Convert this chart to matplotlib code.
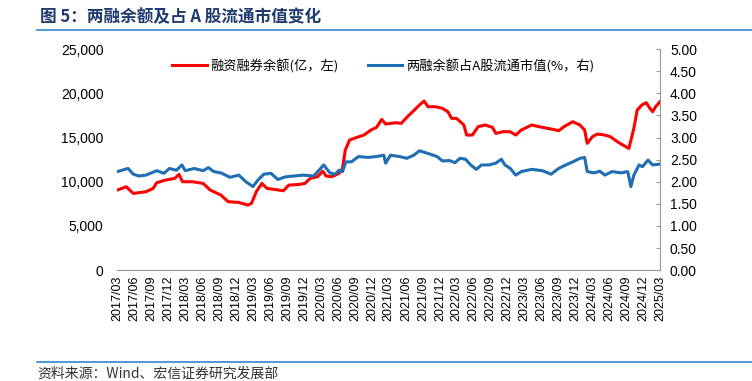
import matplotlib
matplotlib.use("Agg")
import matplotlib.pyplot as plt
import matplotlib.ticker as mticker
import numpy as np
import pandas as pd

plt.rcParams['font.family'] = ['Liberation Sans', 'Noto Sans CJK SC', 'DejaVu Sans']

# 融资融券余额(亿元, 左轴)
margin_dates = ['2017-03-01', '2017-04-18', '2017-05-26', '2017-08-02', '2017-09-10', '2017-09-29',
                '2017-11-16', '2018-01-04', '2018-01-27', '2018-02-15', '2018-04-09', '2018-06-06',
                '2018-07-14', '2018-09-10', '2018-10-18', '2018-12-15', '2019-02-02', '2019-02-21',
                '2019-03-19', '2019-04-18', '2019-05-16', '2019-06-25', '2019-08-12', '2019-09-10',
                '2019-11-07', '2019-12-06', '2020-01-03', '2020-02-12', '2020-03-10', '2020-03-29',
                '2020-04-28', '2020-06-06', '2020-06-25', '2020-07-10', '2020-08-02', '2020-09-10',
                '2020-10-18', '2020-11-25', '2020-12-25', '2021-01-22', '2021-02-12', '2021-04-10',
                '2021-05-07', '2021-06-06', '2021-07-13', '2021-08-13', '2021-09-07', '2021-09-28',
                '2021-11-06', '2021-12-15', '2022-01-13', '2022-02-02', '2022-03-01', '2022-04-09',
                '2022-04-24', '2022-05-25', '2022-06-25', '2022-08-02', '2022-09-10', '2022-09-28',
                '2022-11-07', '2022-12-15', '2023-01-13', '2023-02-12', '2023-04-09', '2023-06-06',
                '2023-08-02', '2023-09-01', '2023-09-30', '2023-11-16', '2023-12-25', '2024-01-19',
                '2024-02-02', '2024-03-01', '2024-03-28', '2024-05-07', '2024-06-06', '2024-07-13',
                '2024-08-12', '2024-09-13', '2024-10-10', '2024-10-28', '2024-11-22', '2024-12-16',
                '2025-01-04', '2025-01-19', '2025-02-04', '2025-02-28']
margin_bal = [9060, 9430, 8680, 8870, 9245, 9890,
              10190, 10380, 10830, 10000, 10000, 9810,
              9060, 8490, 7740, 7660, 7360, 7550,
              8870, 9810, 9245, 9130, 8980, 9620,
              9700, 9810, 10380, 10570, 11200, 10640,
              10570, 10940, 11510, 13590, 14720, 15020,
              15280, 15850, 16150, 17060, 16530, 16680,
              16600, 17280, 18040, 18680, 19130, 18490,
              18490, 18300, 17920, 17170, 17170, 16415,
              15280, 15280, 16230, 16415, 16150, 15470,
              15660, 15660, 15280, 15850, 16415, 16150,
              15925, 15770, 16230, 16790, 16415, 15850,
              14340, 15090, 15400, 15280, 15090, 14530,
              14150, 13770, 16040, 18110, 18680, 18940,
              18300, 17920, 18490, 19060]

# 两融余额占A股流通市值(%, 右轴)
ratio_dates = ['2017-03-01', '2017-04-28', '2017-05-26', '2017-06-25', '2017-08-02', '2017-09-29',
               '2017-11-07', '2017-12-06', '2018-01-13', '2018-02-12', '2018-03-01', '2018-04-19',
               '2018-06-06', '2018-07-04', '2018-08-02', '2018-09-10', '2018-10-28', '2018-12-15',
               '2019-01-22', '2019-03-01', '2019-03-28', '2019-04-28', '2019-06-06', '2019-07-13',
               '2019-08-22', '2019-10-10', '2019-11-25', '2020-01-22', '2020-03-16', '2020-04-18',
               '2020-05-16', '2020-06-06', '2020-06-25', '2020-07-13', '2020-08-12', '2020-09-19',
               '2020-11-07', '2020-12-25', '2021-02-02', '2021-02-12', '2021-03-10', '2021-04-28',
               '2021-06-06', '2021-07-13', '2021-08-13', '2021-09-28', '2021-11-16', '2021-12-15',
               '2022-01-22', '2022-02-20', '2022-03-19', '2022-04-18', '2022-05-16', '2022-06-15',
               '2022-07-13', '2022-08-22', '2022-09-28', '2022-10-28', '2022-11-16', '2022-12-15',
               '2023-01-13', '2023-02-12', '2023-04-09', '2023-06-06', '2023-07-22', '2023-09-01',
               '2023-10-10', '2023-11-16', '2023-12-25', '2024-01-19', '2024-02-02', '2024-03-10',
               '2024-04-09', '2024-05-07', '2024-06-15', '2024-08-02', '2024-09-07', '2024-09-24',
               '2024-10-10', '2024-11-07', '2024-11-25', '2024-12-25', '2025-01-19', '2025-02-28']
ratio_pct = [2.23, 2.30, 2.17, 2.13, 2.15, 2.25,
             2.19, 2.30, 2.26, 2.38, 2.25, 2.30,
             2.25, 2.32, 2.23, 2.20, 2.10, 2.15,
             2.00, 1.89, 2.04, 2.17, 2.19, 2.05,
             2.11, 2.13, 2.15, 2.13, 2.38, 2.20,
             2.17, 2.26, 2.23, 2.45, 2.45, 2.57,
             2.55, 2.57, 2.60, 2.42, 2.60, 2.57,
             2.53, 2.60, 2.70, 2.64, 2.57, 2.47,
             2.48, 2.43, 2.53, 2.51, 2.38, 2.28,
             2.38, 2.38, 2.42, 2.51, 2.38, 2.30,
             2.15, 2.23, 2.28, 2.25, 2.17, 2.30,
             2.38, 2.45, 2.53, 2.55, 2.23, 2.20,
             2.24, 2.15, 2.23, 2.20, 2.23, 1.89,
             2.15, 2.38, 2.34, 2.49, 2.38, 2.40]

label_left = '融资融券余额(亿，左)'
label_right = '两融余额占A股流通市值(%，右)'
title = '图 5：两融余额及占 A 股流通市值变化'
source = '资料来源：Wind、宏信证券研究发展部'

red = '#FF0000'
blue = '#1F6DB5'
navy = '#1F3A6E'
cjk = ['Noto Sans CJK SC', 'DejaVu Sans']

fig = plt.figure(figsize=(7.52, 3.81), dpi=100)
ax = fig.add_axes([0.156, 0.291, 0.722, 0.58])
ax2 = ax.twinx()

l1, = ax.plot(pd.to_datetime(margin_dates), margin_bal, color=red, lw=2.2, label=label_left)
l2, = ax2.plot(pd.to_datetime(ratio_dates), ratio_pct, color=blue, lw=2.2, label=label_right)

ax.set_xlim(pd.Timestamp('2017-03-01'), pd.Timestamp('2025-03-01'))
ax.set_ylim(0, 25000)
ax2.set_ylim(0, 5)
ax.yaxis.set_major_locator(mticker.MultipleLocator(5000))
ax.yaxis.set_major_formatter(mticker.FuncFormatter(lambda v, p: f'{v:,.0f}'))
ax2.yaxis.set_major_locator(mticker.MultipleLocator(0.5))
ax2.yaxis.set_major_formatter(mticker.FormatStrFormatter('%.2f'))

ticks = pd.date_range('2017-03-01', '2025-03-01', freq='3MS')
ax.set_xticks(ticks)
ax.set_xticklabels([t.strftime('%Y/%m') for t in ticks], rotation=90, fontsize=9)
ax.tick_params(axis='x', length=0, pad=4)
ax.tick_params(axis='y', length=0, labelsize=10, pad=10)
ax2.tick_params(axis='y', direction='in', length=3, color='#999999', labelsize=10, pad=7)

for s in ('top', 'left', 'right'):
    ax.spines[s].set_visible(False)
for s in ('top', 'left', 'bottom'):
    ax2.spines[s].set_visible(False)
ax.spines['bottom'].set_color('#999999')
ax2.spines['right'].set_color('#999999')

leg = ax.legend(handles=[l1, l2], loc='upper center', bbox_to_anchor=(0.49, 1.01), ncol=2,
                frameon=False, handlelength=2.6, handletextpad=0.3, columnspacing=2.2,
                prop={'family': cjk, 'size': 9.5})

fig.text(0.053, 0.955, title, fontsize=12, fontweight='bold', color=navy,
         family=cjk, va='center')
fig.add_artist(plt.Line2D([0.049, 1.0], [0.92, 0.92], color='#2E86D0', lw=1.2))
fig.add_artist(plt.Line2D([0.049, 1.0], [0.05, 0.05], color='#2E86D0', lw=1.2))
fig.text(0.05, 0.018, source, fontsize=10, color='#333333',
         family=cjk, va='center')

fig.savefig('out.png', dpi=100)
